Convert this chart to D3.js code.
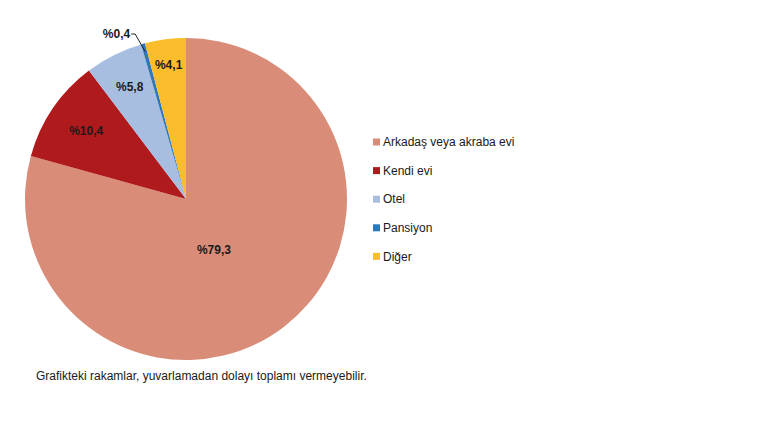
<!DOCTYPE html>
<html>
<head>
<meta charset="utf-8">
<script src="https://cdn.jsdelivr.net/npm/d3@7"></script>
<style>
  body { margin: 0; background: #fff; }
  text { font-family: "Liberation Sans", Arial, sans-serif; }
</style>
</head>
<body>
<script>
var categories = ['Arkadaş veya akraba evi', 'Kendi evi', 'Otel', 'Pansiyon', 'Diğer'];
var values = [79.3, 10.4, 5.8, 0.4, 4.1];
var labels = ['%79,3', '%10,4', '%5,8', '%0,4', '%4,1'];
var colors = ['#d98c78', '#af1a1c', '#a7bee0', '#2e78b8', '#fbbd2c'];
var note = 'Grafikteki rakamlar, yuvarlamadan dolayı toplamı vermeyebilir.';

var width = 772, height = 425;
var cx = 186, cy = 199, radius = 161;

var svg = d3.select('body')
	.append('svg')
	.attr('width', width)
	.attr('height', height);

var g = svg.append('g')
	.attr('transform', 'translate(' + cx + ',' + cy + ')');

var pie = d3.pie()
	.sort(null)
	.value(function(d){return d});

var arc = d3.arc()
	.innerRadius(0)
	.outerRadius(radius);

var slices = pie(values);

g.selectAll('path')
	.data(slices)
	.enter()
	.append('path')
	.attr('d', arc)
	.style('fill', function(d,i){return colors[i]});

// label placement (fraction of radius); the big slice label sits lower right like in Excel
var labelArc = function(r){ return d3.arc().innerRadius(r).outerRadius(r); };

slices.forEach(function(d, i){
	var pos;
	if (i === 0) {
		var a = Math.PI * 0.84, r = radius * 0.36;
		pos = [Math.sin(a) * r, -Math.cos(a) * r];
	} else if (i === 3) {
		pos = null;
	} else {
		var rf = [0, 0.75, 0.78, 0, 0.84][i];
		pos = labelArc(radius * rf).centroid(d);
	}
	if (pos) {
		g.append('text')
			.attr('x', pos[0])
			.attr('y', pos[1])
			.attr('dy', '0.35em')
			.attr('text-anchor', 'middle')
			.style('font-size', '12px')
			.style('font-weight', 'bold')
			.style('fill', '#1a1a1a')
			.text(labels[i]);
	}
});

// small slice label outside with a leader line
var small = slices[3];
var edge = labelArc(radius - 8).centroid(small);
var knee = [edge[0] - 10, -radius - 4];
var tip = [knee[0] - 4, knee[1]];
g.append('polyline')
	.attr('points', [edge, knee, tip].map(function(p){return p.join(',')}).join(' '))
	.style('fill', 'none')
	.style('stroke', '#222')
	.style('stroke-width', 1);
g.append('text')
	.attr('x', tip[0] - 1)
	.attr('y', tip[1])
	.attr('dy', '0.35em')
	.attr('text-anchor', 'end')
	.style('font-size', '12px')
	.style('font-weight', 'bold')
	.style('fill', '#1a1a1a')
	.text(labels[3]);

// legend
var legend = svg.append('g')
	.attr('transform', 'translate(373,142)');

var items = legend.selectAll('g')
	.data(categories)
	.enter()
	.append('g')
	.attr('transform', function(d,i){return 'translate(0,' + (i * 28.6) + ')'});

items.append('rect')
	.attr('x', 0)
	.attr('y', -3.5)
	.attr('width', 7)
	.attr('height', 7)
	.style('fill', function(d,i){return colors[i]});

items.append('text')
	.attr('x', 10)
	.attr('y', 0)
	.attr('dy', '0.35em')
	.style('font-size', '12px')
	.style('fill', '#1a1a1a')
	.text(function(d){return d});

svg.append('text')
	.attr('x', 36)
	.attr('y', 380)
	.style('font-size', '12px')
	.style('fill', '#1a1a1a')
	.text(note);
</script>
</body>
</html>
